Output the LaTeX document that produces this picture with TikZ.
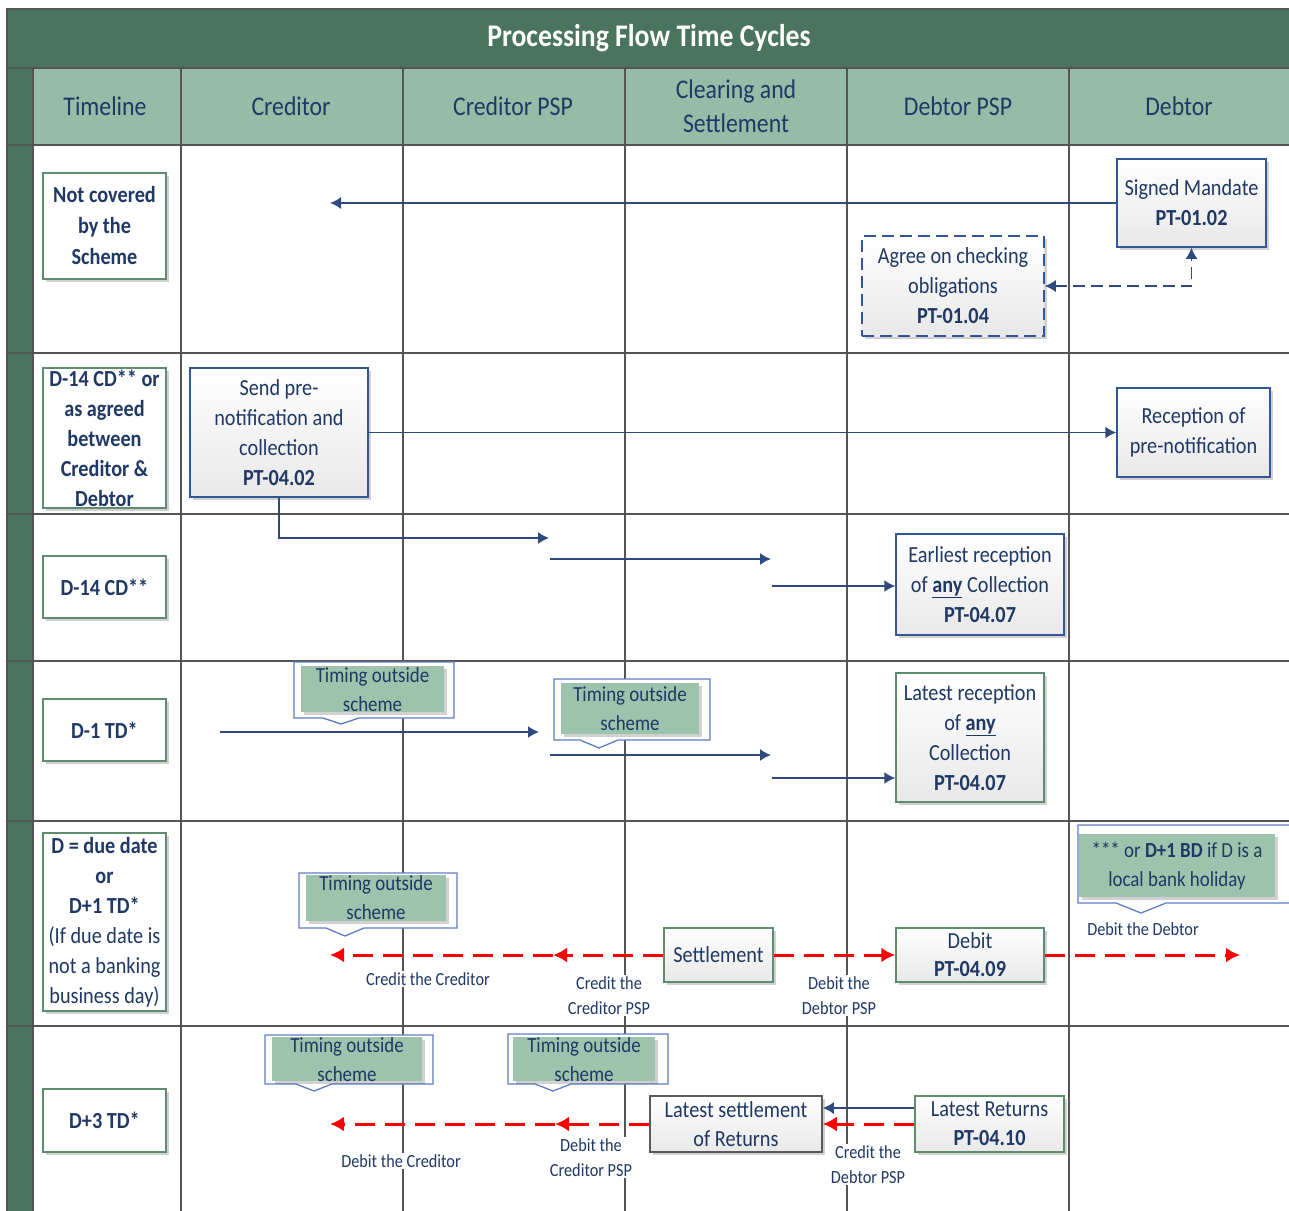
\documentclass[tikz,border=0pt]{standalone}
\usepackage{fontspec}
\setmainfont{Carlito}[FakeStretch=0.88]
\usetikzlibrary{arrows.meta,shadows,calc}
\definecolor{navy}{RGB}{31,56,100}
\definecolor{arrowblue}{RGB}{47,75,125}
\definecolor{boxblue}{RGB}{52,85,150}
\definecolor{boxgreen}{RGB}{96,140,110}
\definecolor{titlegreen}{RGB}{74,116,96}
\definecolor{headgreen}{RGB}{150,188,168}
\definecolor{callblue}{RGB}{95,125,195}
\definecolor{callgreen}{RGB}{157,195,173}
\definecolor{gridgray}{RGB}{85,85,85}
\definecolor{graybd}{RGB}{90,90,90}
\newcommand{\bubble}[7]{%
  \filldraw[fill=white,draw=callblue,line width=1.3pt]
    (#1,#2) -- (#3,#2) -- (#3,#4) -- ({#5+#7},#4) -- (#5,#6) -- ({#5-#7},#4) -- (#1,#4) -- cycle;}
\begin{document}
\begin{tikzpicture}[x=1pt,y=-1pt,
  shad/.style={drop shadow={shadow xshift=2.5pt,shadow yshift=-2.5pt,fill=black,opacity=0.18}},
  bodyfont/.style={font=\fontsize{23}{30}\selectfont},
  pbox/.style={draw=boxblue,line width=1.5pt,top color=white,bottom color=black!9,shad,
    align=center,text=navy,bodyfont,inner sep=2pt},
  gbox/.style={pbox,draw=boxgreen},
  tbox/.style={draw=boxgreen,line width=1.3pt,fill=white,shad,minimum width=123pt,
    align=center,text=navy,bodyfont,inner sep=1pt},
  ttext/.style={align=center,text=navy,font=\bfseries\fontsize{23}{30}\selectfont,inner sep=0pt},
  colhead/.style={align=center,text=navy,font=\fontsize{27}{34}\selectfont,inner sep=0pt},
  lab/.style={fill=white,text=navy,align=center,font=\fontsize{18.5}{25}\selectfont,inner sep=1.5pt},
  ctext/.style={align=center,text=navy,font=\fontsize{21.5}{29}\selectfont,inner sep=0pt},
  flowline/.style={draw=arrowblue,line width=1.6pt,-{Latex[length=11pt,width=12pt]}},
  moneyline/.style={draw=red,line width=3pt,dash pattern=on 20pt off 10pt,-{Latex[length=14pt,width=15pt]}},
  gridline/.style={draw=gridgray,line width=1.5pt}
]
\useasboundingbox (0,0) rectangle (1289,1210);
\clip (0,0) rectangle (1289,1210);

% bands
\fill[titlegreen] (7,9) rectangle (1300,68);
\fill[titlegreen] (7,68) rectangle (33,1220);
\fill[headgreen] (33,68) rectangle (1300,145);
\node[text=white,font=\bfseries\fontsize{31.5}{36}\selectfont,inner sep=0pt] (title) at (649,38) {Processing Flow Time Cycles};

% grid
\draw[gridline] (7,1220) -- (7,9) -- (1300,9);
\draw[gridline] (7,68) -- (1300,68);
\foreach \yy in {145,353,514,661,821,1026} \draw[gridline] (7,\yy) -- (1300,\yy);
\foreach \xx in {33,181,403,625,847,1069} \draw[gridline] (\xx,68) -- (\xx,1220);

% headers
\node[colhead] (h1) at (105,106) {Timeline};
\node[colhead] (h2) at (291,106) {Creditor};
\node[colhead] (h3) at (513,106) {Creditor PSP};
\node[colhead] (h4) at (736,106) {Clearing and\\Settlement};
\node[colhead] (h5) at (958,106) {Debtor PSP};
\node[colhead] (h6) at (1179,106) {Debtor};

% timeline boxes
\node[tbox,minimum height=106pt,font=\bfseries\fontsize{23}{31}\selectfont] (t1) at (104.5,226) {Not covered\\by the\\Scheme};
\node[tbox,minimum height=140pt] (t2) at (104.5,438) {};
\node[ttext] (t2txt) at (104.5,438) {D-14 CD** or\\as agreed\\between\\Creditor \&\\Debtor};
\node[tbox,minimum height=62pt,font=\bfseries\fontsize{23}{30}\selectfont] (t3) at (104.5,587) {D-14 CD**};
\node[tbox,minimum height=62pt,font=\bfseries\fontsize{23}{30}\selectfont] (t4) at (104.5,730) {D-1 TD*};
\node[tbox,minimum height=178pt] (t5) at (104.5,922) {\textbf{D = due date}\\\textbf{or}\\\textbf{D+1 TD*}\\(If due date is\\not a banking\\business day)};
\node[tbox,minimum height=63pt,font=\bfseries\fontsize{23}{30}\selectfont] (t6) at (104.5,1120.5) {D+3 TD*};

% process boxes
\node[pbox,minimum width=149pt,minimum height=88pt] (sm) at (1191.5,203) {Signed Mandate\\\textbf{PT-01.02}};
\node[pbox,dash pattern=on 12pt off 6pt,minimum width=182pt,minimum height=100pt] (agree) at (953,286) {Agree on checking\\obligations\\\textbf{PT-01.04}};
\node[pbox,minimum width=178pt,minimum height=129pt] (send) at (279,432.5) {Send pre-\\notification and\\collection\\\textbf{PT-04.02}};
\node[pbox,minimum width=153pt,minimum height=89pt] (recep) at (1193.5,432.5) {Reception of\\pre-notification};
\node[pbox,minimum width=168pt,minimum height=101pt] (early) at (980,584.5) {Earliest reception\\of \underline{\textbf{any}} Collection\\\textbf{PT-04.07}};
\node[gbox,minimum width=148pt,minimum height=129pt] (late) at (970,737.5) {Latest reception\\of \underline{\textbf{any}}\\Collection\\\textbf{PT-04.07}};
\node[gbox,minimum width=109pt,minimum height=54pt] (settle) at (718.5,955) {Settlement};
\node[gbox,minimum width=148pt,minimum height=54pt,font=\fontsize{23}{28}\selectfont] (debit) at (970,955) {Debit\\\textbf{PT-04.09}};
\node[pbox,draw=graybd,minimum width=172pt,minimum height=56pt,font=\fontsize{23}{29}\selectfont] (lsr) at (736,1124) {Latest settlement\\of Returns};
\node[gbox,minimum width=149pt,minimum height=56pt,font=\fontsize{23}{29}\selectfont] (lret) at (989.5,1124) {Latest Returns\\\textbf{PT-04.10}};

% blue flows
\coordinate (a1) at (330,203);
\draw[flowline] (sm.west) -- (a1);
\draw[flowline,dash pattern=on 12pt off 6pt,arrows={Latex[length=11pt,width=12pt]-Latex[length=11pt,width=12pt]}] (agree.east) -| (sm.south);
\draw[flowline] (send.east) -- (recep.west);
\coordinate (a2) at (549,538);
\draw[flowline] (send.south) |- (a2);
\coordinate (a3s) at (550,559);
\coordinate (a3e) at (771,559);
\draw[flowline] (a3s) -- (a3e);
\coordinate (a4s) at (772,586);
\draw[flowline] (a4s) -- (a4s -| early.west);
\coordinate (b1s) at (220,732);
\coordinate (b1e) at (539,732);
\draw[flowline] (b1s) -- (b1e);
\coordinate (b2s) at (550,755);
\coordinate (b2e) at (771,755);
\draw[flowline] (b2s) -- (b2e);
\coordinate (b3s) at (772,778);
\draw[flowline] (b3s) -- (b3s -| late.west);
\draw[flowline] ([yshift=16pt]lret.west) -- ([yshift=16pt]lret.west -| lsr.east);

% red flows
\coordinate (r1) at (553,955);
\coordinate (r2) at (330,955);
\coordinate (r3) at (1240,955);
\draw[moneyline] (settle.west) -- (r1);
\draw[moneyline] (r1) -- (r2);
\draw[moneyline] (settle.east) -- (debit.west);
\draw[moneyline] (debit.east) -- (r3);
\coordinate (r4) at (555,1124);
\coordinate (r5) at (330,1124);
\draw[moneyline] (lret.west) -- (lsr.east);
\draw[moneyline] (lsr.west) -- (r4);
\draw[moneyline] (r4) -- (r5);

% callouts
\bubble{294}{662}{454}{718}{341}{724}{18}
\path[fill=callgreen,shad] (301,666) rectangle (444,712);
\node[ctext] (co1) at (372.5,689.5) {Timing outside\\scheme};
\bubble{554}{679}{710}{740}{599}{748}{19}
\path[fill=callgreen,shad] (561,683) rectangle (699,734);
\node[ctext] (co2) at (630,709) {Timing outside\\scheme};
\bubble{299}{873}{457}{928}{345}{936}{19}
\path[fill=callgreen,shad] (306,875) rectangle (446,921);
\node[ctext] (co3) at (376,897.5) {Timing outside\\scheme};
\bubble{1078}{825}{1300}{903}{1141}{913}{25}
\path[fill=callgreen,shad] (1079,834) rectangle (1275,897);
\node[ctext] (co4) at (1177,866.5) {*** or \textbf{D+1 BD} if D is a\\local bank holiday};
\bubble{265}{1035}{433}{1084}{314}{1091}{18}
\path[fill=callgreen,shad] (272,1037) rectangle (422,1081);
\node[ctext] (co5) at (347,1059.5) {Timing outside\\scheme};
\bubble{508}{1034}{668}{1084}{553}{1091}{18}
\path[fill=callgreen,shad] (513,1037) rectangle (655,1081);
\node[ctext] (co6) at (584,1059.5) {Timing outside\\scheme};

% labels
\node[lab] (l1) at (428,979) {Credit the Creditor};
\node[lab] (l2) at (609,995.5) {Credit the\\Creditor PSP};
\node[lab] (l3) at (839,995.5) {Debit the\\Debtor PSP};
\node[lab] (l4) at (1143,929) {Debit the Debtor};
\node[lab] (l5) at (401,1161) {Debit the Creditor};
\node[lab] (l6) at (591,1157.5) {Debit the\\Creditor PSP};
\node[lab] (l7) at (868,1164.5) {Credit the\\Debtor PSP};
\end{tikzpicture}
\end{document}
